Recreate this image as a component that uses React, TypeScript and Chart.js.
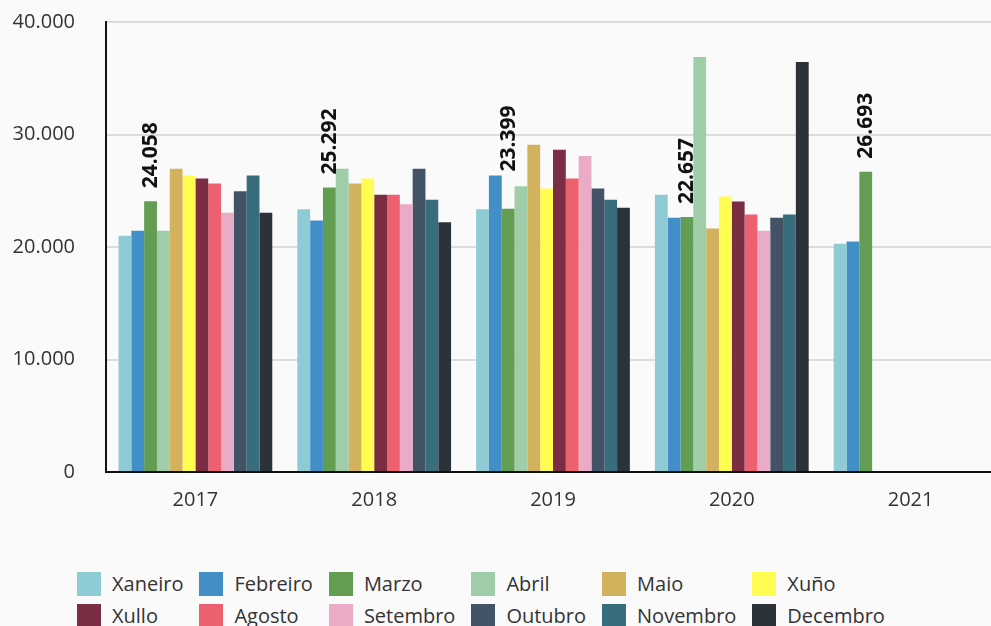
import React, { useEffect, useRef } from "react";
import { Chart, registerables } from "chart.js";

Chart.register(...registerables);

const years = ["2017", "2018", "2019", "2020", "2021"];
const months = ["Xaneiro", "Febreiro", "Marzo", "Abril", "Maio", "Xuño", "Xullo", "Agosto", "Setembro", "Outubro", "Novembro", "Decembro"];

const xaneiro = [21000, 23350, 23350, 24650, 20300];
const febreiro = [21450, 22350, 26350, 22600, 20500];
const marzo = [24058, 25292, 23399, 22657, 26693];
const abril = [21450, 26950, 25400, 36900, null];
const maio = [26950, 25650, 29100, 21650, null];
const xuno = [26350, 26100, 25200, 24500, null];
const xullo = [26100, 24650, 28650, 24050, null];
const agosto = [25650, 24650, 26100, 22900, null];
const setembro = [23050, 23800, 28100, 21450, null];
const outubro = [24950, 26950, 25200, 22600, null];
const novembro = [26350, 24200, 24200, 22900, null];
const decembro = [23050, 22200, 23500, 36450, null];

const seriesValues = [xaneiro, febreiro, marzo, abril, maio, xuno, xullo, agosto, setembro, outubro, novembro, decembro];

const monthColors = ["#8fcbd5", "#428fc8", "#629d52", "#9fcda9", "#d3b25d", "#fffc52", "#7a2d43", "#ec606f", "#eaabc6", "#435366", "#386d7d", "#2b3339"];

const yTicks = [0, 10000, 20000, 30000, 40000];
const labelledMonth = "Marzo";

function fmt(v: number): string {
  return Math.round(v).toString().replace(/\B(?=(\d{3})+(?!\d))/g, ".");
}

const FONT = "'Open Sans', 'Noto Sans', sans-serif";

const valueLabels = {
  id: "valueLabels",
  afterDatasetsDraw(chart: any) {
    const ctx = chart.ctx;
    const dsList = chart.data.datasets;
    const di = dsList.findIndex((d: any) => d.label === labelledMonth);
    if (di < 0) return;
    const meta = chart.getDatasetMeta(di);
    ctx.save();
    ctx.font = `bold 21px ${FONT}`;
    ctx.fillStyle = "#111";
    ctx.textAlign = "left";
    ctx.textBaseline = "alphabetic";
    meta.data.forEach((el: any, i: number) => {
      const v = dsList[di].data[i];
      if (v == null) return;
      const p = el.getProps(["x", "y", "width"], true);
      const right = p.x + p.width / 2;
      const lw = 16;
      let bottom = p.y - 13;
      dsList.forEach((ds: any, j: number) => {
        if (j === di || ds.data[i] == null) return;
        const o = chart.getDatasetMeta(j).data[i];
        if (!o) return;
        const q = o.getProps(["x", "y", "width"], true);
        const l = q.x - q.width / 2;
        const r = q.x + q.width / 2;
        if (r > right - lw && l < right - 1) bottom = Math.min(bottom, q.y - 4);
      });
      ctx.save();
      ctx.translate(right, bottom);
      ctx.rotate(-Math.PI / 2);
      ctx.fillText(fmt(v as number), 0, 0);
      ctx.restore();
    });
    ctx.restore();
  },
};

function ChartCanvas() {
  const ref = useRef<HTMLCanvasElement | null>(null);
  useEffect(() => {
    if (!ref.current) return;
    const chart = new Chart(ref.current, {
      type: "bar",
      data: {
        labels: years,
        datasets: months.map((m, i) => ({
          label: m,
          data: seriesValues[i],
          backgroundColor: monthColors[i],
          borderWidth: 0,
        })),
      },
      options: {
        responsive: false,
        animation: false,
        layout: { padding: { top: 0, left: 0, right: 0, bottom: 0 } },
        datasets: { bar: { categoryPercentage: 0.86, barPercentage: 1 } },
        plugins: { legend: { display: false }, tooltip: { enabled: false } },
        scales: {
          x: {
            grid: { display: false, drawTicks: false },
            border: { display: true, color: "#111", width: 2 },
            ticks: { color: "#333", font: { family: FONT, size: 20 }, padding: 16 },
            afterFit: (s: any) => {
              s.height = 48;
            },
          },
          y: {
            min: 0,
            max: 40000,
            afterBuildTicks: (s: any) => {
              s.ticks = yTicks.map((v) => ({ value: v }));
            },
            grid: { color: "#dcdcdc", lineWidth: 2, drawTicks: true, tickLength: 21, tickColor: "rgba(0,0,0,0)" },
            border: { display: true, color: "#111", width: 2 },
            ticks: {
              color: "#333",
              font: { family: FONT, size: 20 },
              padding: 10,
              callback: (v: any) => fmt(Number(v)),
            },
            afterFit: (s: any) => {
              s.width = 106;
            },
          },
        },
      } as any,
      plugins: [valueLabels],
    });
    return () => chart.destroy();
  }, []);
  return <canvas ref={ref} width={1000} height={520} style={{ position: "absolute", left: 0, top: 0, width: 1000, height: 520 }} />;
}

export default function App() {
  return (
    <div style={{ position: "fixed", left: 0, top: 0, right: 0, bottom: 0, background: "#fafafa", overflow: "hidden", fontFamily: FONT }}>
      <ChartCanvas />
      <div
        style={{
          position: "absolute",
          left: 77,
          top: 572,
          display: "grid",
          gridTemplateColumns: "repeat(6, auto)",
          columnGap: 16,
          rowGap: 8,
          justifyContent: "start",
        }}
      >
        {months.map((m, i) => (
          <div key={m} style={{ display: "flex", alignItems: "center", height: 24 }}>
            <span style={{ display: "inline-block", width: 24, height: 24, background: monthColors[i], marginRight: 11, flex: "none" }} />
            <span style={{ fontSize: 20, lineHeight: "24px", color: "#333", whiteSpace: "nowrap" }}>{m}</span>
          </div>
        ))}
      </div>
    </div>
  );
}
